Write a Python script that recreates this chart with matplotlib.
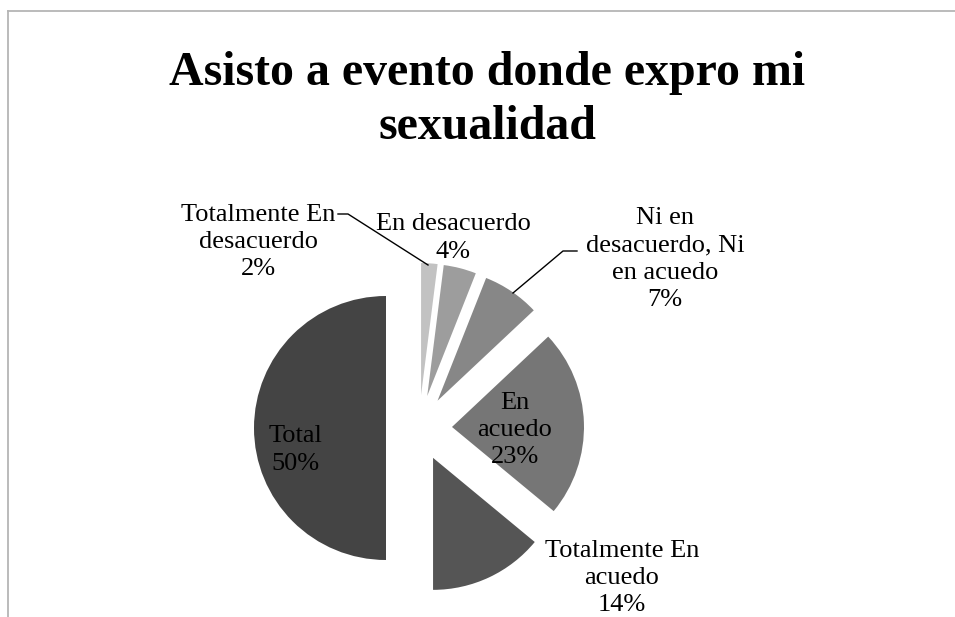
import matplotlib
matplotlib.use("Agg")
import matplotlib.pyplot as plt
from matplotlib.lines import Line2D

categorias = ["Totalmente En\ndesacuerdo", "En desacuerdo", "Ni en\ndesacuerdo, Ni\nen acuedo",
              "En\nacuedo", "Totalmente En\nacuedo", "Total"]
porcentajes = [2, 4, 7, 23, 14, 50]
grises = ["#c2c2c2", "#9d9d9d", "#878787", "#767676", "#555555", "#444444"]

W, H = 955, 617
fig = plt.figure(figsize=(W / 100, H / 100), dpi=100)
ax = fig.add_axes([0, 0, 1, 1])

# pie in pixel units, y up; explode offset is in data units here
cx, cy, r = 419, H - 428, 132
ax.pie(porcentajes, colors=grises, startangle=90, counterclock=False,
       explode=[0.25 * r] * len(porcentajes), center=(cx, cy), radius=r,
       wedgeprops=dict(linewidth=0))
ax.set_xlim(0, W)
ax.set_ylim(0, H)
ax.set_aspect("equal")
ax.axis("off")

serif = "Liberation Serif"

ax.text(487, H - 100, "Asisto a evento donde expro mi\nsexualidad", ha="center", va="center",
        fontsize=34.5, fontweight="bold", family=serif, linespacing=1.28)

# label spots (centre of each text block)
pos_etiquetas = [(258, 242), (453, 238), (665, 259), (515, 430), (622, 578), (295, 450)]
for nombre, p, (x, y) in zip(categorias, porcentajes, pos_etiquetas):
    ax.text(x, H - y, f"{nombre}\n{p}%", ha="center", va="center", fontsize=19,
            family=serif, linespacing=1.3)

# leader lines
ax.add_line(Line2D([338, 348, 428], [H - 214, H - 214, H - 265], color="black", lw=1))
ax.add_line(Line2D([577, 563, 513], [H - 251, H - 251, H - 293], color="black", lw=1))

# chart area border (top and left visible)
ax.add_line(Line2D([8, W], [H - 11, H - 11], color="#b5b5b5", lw=1.3))
ax.add_line(Line2D([8, 8], [H - 11, 0], color="#b5b5b5", lw=1.3))

fig.savefig("out.png", dpi=100)
